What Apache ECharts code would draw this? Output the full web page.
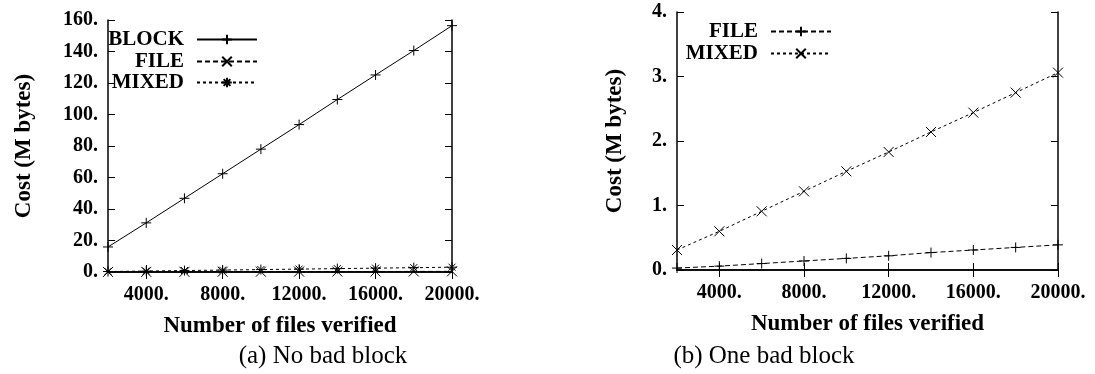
<!DOCTYPE html>
<html>
<head>
<meta charset="utf-8">
<script src="https://cdn.jsdelivr.net/npm/echarts@6/dist/echarts.min.js"></script>
<style>
  html, body { margin: 0; padding: 0; background: #fff; }
  #chart { width: 1095px; height: 374px; }
</style>
</head>
<body>
<div id="chart"></div>
<script>
// ---- data ----
const xValues = [2000, 4000, 6000, 8000, 10000, 12000, 14000, 16000, 18000, 20000];
const xTickValues = [4000, 8000, 12000, 16000, 20000];

// (a) No bad block
const blockA = [15.9, 31.2, 46.8, 62.4, 78.0, 93.6, 109.5, 125.1, 140.6, 156.4];
const fileA  = [0.04, 0.08, 0.12, 0.16, 0.20, 0.24, 0.28, 0.32, 0.36, 0.40];
const mixedA = [0.30, 0.61, 0.92, 1.22, 1.53, 1.83, 2.14, 2.44, 2.75, 3.05];

// (b) One bad block
const fileB  = [0.03, 0.06, 0.10, 0.14, 0.18, 0.22, 0.27, 0.31, 0.35, 0.39];
const mixedB = [0.31, 0.60, 0.91, 1.22, 1.53, 1.83, 2.14, 2.44, 2.75, 3.06];

const yTicksA = { min: 0, max: 160, interval: 20 };
const yTicksB = { min: 0, max: 4, interval: 1 };

const captionA = '(a) No bad block';
const captionB = '(b) One bad block';
const xTitle = 'Number of files verified';
const yTitle = 'Cost (M bytes)';

// ---- helpers ----
const pair = ys => xValues.map((x, i) => [x, ys[i]]);
const FONT = 'Liberation Serif';
const SYM_PLUS = 'path://M0,5L10,5M5,0L5,10';
const SYM_CROSS = 'path://M0,0L10,10M10,0L0,10';
const SYM_STAR = 'path://M0,5L10,5M5,0L5,10M1.5,1.5L8.5,8.5M8.5,1.5L1.5,8.5';

const axisLineStyle = { color: '#000', width: 1.5 };
const tickStyle = { show: true, inside: true, length: 7, lineStyle: { color: '#000', width: 1 } };
const labelFont = { fontFamily: FONT, fontWeight: 'bold', fontSize: 20, color: '#000' };
const nameFont = { fontFamily: FONT, fontWeight: 'bold', fontSize: 23, color: '#000' };

function xAxes(gridIndex) {
  return [
    {
      type: 'value', gridIndex, position: 'bottom', min: 2000, max: 20000,
      axisLine: { show: true, lineStyle: axisLineStyle },
      axisTick: Object.assign({ customValues: xTickValues }, tickStyle),
      axisLabel: Object.assign({ customValues: xTickValues, margin: 13, formatter: v => v + '.' }, labelFont),
      splitLine: { show: false },
      name: xTitle, nameLocation: 'middle', nameGap: 43, nameTextStyle: nameFont
    },
    {
      type: 'value', gridIndex, position: 'top', min: 2000, max: 20000,
      axisLine: { show: true, lineStyle: axisLineStyle },
      axisTick: Object.assign({ customValues: xTickValues }, tickStyle),
      axisLabel: { show: false },
      splitLine: { show: false }
    }
  ];
}

function yAxes(gridIndex, t, nameGap) {
  return [
    {
      type: 'value', gridIndex, position: 'left', min: t.min, max: t.max, interval: t.interval,
      axisLine: { show: true, lineStyle: axisLineStyle },
      axisTick: tickStyle,
      axisLabel: Object.assign({ margin: 10, formatter: v => v + '.' }, labelFont),
      splitLine: { show: false },
      name: yTitle, nameLocation: 'middle', nameRotate: 90, nameGap, nameTextStyle: nameFont
    },
    {
      type: 'value', gridIndex, position: 'right', min: t.min, max: t.max, interval: t.interval,
      axisLine: { show: true, lineStyle: axisLineStyle },
      axisTick: tickStyle,
      axisLabel: { show: false },
      splitLine: { show: false }
    }
  ];
}

function lineSeries(name, data, xAxisIndex, yAxisIndex, symbol, dash) {
  return {
    type: 'line', name, data: pair(data), xAxisIndex, yAxisIndex,
    symbol, symbolSize: 10, showAllSymbol: true,
    itemStyle: { color: 'transparent', borderColor: '#000', borderWidth: 1 },
    lineStyle: { color: '#000', width: 1, type: dash },
    emphasis: { disabled: true },
    z: 3
  };
}

function legendItem(seriesName, label, rightPx, topPx) {
  return {
    data: [seriesName], right: rightPx, top: topPx, orient: 'vertical', align: 'right',
    itemWidth: 60, itemHeight: 12, padding: 0,
    formatter: () => label,
    textStyle: { fontFamily: FONT, fontWeight: 'bold', fontSize: 21, color: '#000', padding: [0, 8, 0, 0] },
    selectedMode: false
  };
}

const option = {
  animation: false,
  backgroundColor: '#fff',
  grid: [
    { left: 108, right: 1095 - 452, top: 20, bottom: 374 - 272 },
    { left: 677, right: 1095 - 1058, top: 12, bottom: 374 - 270 }
  ],
  xAxis: [...xAxes(0), ...xAxes(1)],
  yAxis: [...yAxes(0, yTicksA, 72), ...yAxes(1, yTicksB, 50)],
  legend: [
    legendItem('BLOCK_a', 'BLOCK', 1095 - 258, 29),
    legendItem('FILE_a', 'FILE', 1095 - 258, 51),
    legendItem('MIXED_a', 'MIXED', 1095 - 258, 72),
    legendItem('FILE_b', 'FILE', 1095 - 832, 21),
    legendItem('MIXED_b', 'MIXED', 1095 - 832, 43)
  ],
  series: [
    lineSeries('BLOCK_a', blockA, 0, 0, SYM_PLUS, 'solid'),
    lineSeries('FILE_a', fileA, 0, 0, SYM_CROSS, [5, 3]),
    lineSeries('MIXED_a', mixedA, 0, 0, SYM_STAR, [3, 3]),
    lineSeries('FILE_b', fileB, 2, 2, SYM_PLUS, [5, 3]),
    lineSeries('MIXED_b', mixedB, 2, 2, SYM_CROSS, [3, 3])
  ],
  graphic: [
    { type: 'text', x: 323, y: 356, style: { text: captionA, font: '25px "Liberation Serif"', fill: '#000', align: 'center', verticalAlign: 'middle' } },
    { type: 'text', x: 764, y: 356, style: { text: captionB, font: '25px "Liberation Serif"', fill: '#000', align: 'center', verticalAlign: 'middle' } }
  ]
};

const chart = echarts.init(document.getElementById('chart'), null, { renderer: 'canvas' });
chart.setOption(option);
</script>
</body>
</html>
